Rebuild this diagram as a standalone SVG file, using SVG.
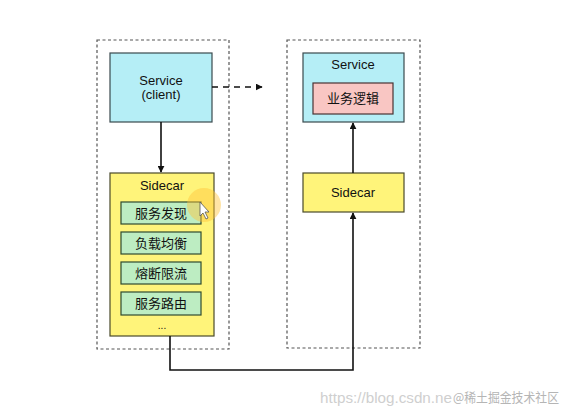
<svg xmlns="http://www.w3.org/2000/svg" width="573" height="415" viewBox="0 0 573 415">
<defs>
<style>
.grp{fill:none;stroke:#555;stroke-width:1.2;stroke-dasharray:3,2.5}
.svc{fill:#b5eef6;stroke:#3a4a4e;stroke-width:1.2}
.sc{fill:#fff47a;stroke:#4a4a2a;stroke-width:1.2}
.fn{fill:#bdedc2;stroke:#2f4a2f;stroke-width:1.2}
.biz{fill:#f9c6c3;stroke:#4a3333;stroke-width:1.2}
.t{font-family:"Liberation Sans",Arial,sans-serif;font-size:13px;fill:#111;text-anchor:middle}
.c{font-family:"Noto Sans CJK SC","Liberation Sans",sans-serif;font-size:13px;fill:#111;text-anchor:middle}
.ln{fill:none;stroke:#111;stroke-width:1.6}
.wm{font-size:14px;fill:#cfcfcf}
</style>
<marker id="ah" viewBox="0 0 10 10" refX="9" refY="5" markerWidth="7" markerHeight="7" markerUnits="userSpaceOnUse" orient="auto">
<path d="M0,0 L10,5 L0,10 z" fill="#111"/>
</marker>
</defs>
<rect width="573" height="415" fill="#fff"/>
<g id="group-left"><rect class="grp" x="97" y="40" width="132" height="309"/></g>
<g id="group-right"><rect class="grp" x="287" y="40" width="133" height="308"/></g>
<g id="service-client">
<rect class="svc" x="110" y="53" width="102" height="69"/>
<text class="t" x="161" y="85">Service</text>
<text class="t" x="161" y="99">(client)</text>
</g>
<g id="sidecar-left">
<rect class="sc" x="110" y="173" width="104" height="163"/>
<text class="t" x="162" y="190">Sidecar</text>
</g>
<g id="fn-discovery"><rect class="fn" x="121" y="202" width="80" height="22"/><text class="c" x="161" y="218">服务发现</text></g>
<g id="fn-lb"><rect class="fn" x="121" y="232" width="80" height="22"/><text class="c" x="161" y="248">负载均衡</text></g>
<g id="fn-cb"><rect class="fn" x="121" y="262" width="80" height="22"/><text class="c" x="161" y="278">熔断限流</text></g>
<g id="fn-route"><rect class="fn" x="121" y="292" width="80" height="23"/><text class="c" x="161" y="308">服务路由</text></g>
<g id="more"><text class="t" x="162" y="329" style="font-size:10px">...</text></g>
<g id="service-right">
<rect class="svc" x="303" y="53" width="101" height="69"/>
<text class="t" x="353" y="69">Service</text>
<rect class="biz" x="313" y="83" width="80" height="31"/>
<text class="c" x="353" y="103">业务逻辑</text>
</g>
<g id="sidecar-right">
<rect class="sc" x="303" y="173" width="101" height="39"/>
<text class="t" x="353" y="197">Sidecar</text>
</g>
<g id="connectors">
<line class="ln" x1="161" y1="122" x2="161" y2="172" marker-end="url(#ah)"/>
<line class="ln" x1="212" y1="87" x2="262" y2="87" stroke-dasharray="6,5" marker-end="url(#ah)"/>
<line class="ln" x1="353" y1="173" x2="353" y2="123" marker-end="url(#ah)"/>
<polyline class="ln" points="170,336 170,370 353,370 353,213" marker-end="url(#ah)"/>
</g>
<g id="cursor">
<circle cx="204" cy="205" r="17" fill="#ffc43a" opacity="0.45"/>
<path d="M200,202 L200,216 L203,213 L206,219 L208,218 L205,212 L209,212 z" fill="#fff" stroke="#555" stroke-width="0.8"/>
</g>
<g id="watermark">
<text class="wm" x="320" y="403" textLength="132" lengthAdjust="spacingAndGlyphs" style="font-family:'Liberation Sans',sans-serif">https://blog.csdn.ne</text>
<text class="wm" x="453" y="402" textLength="106" lengthAdjust="spacingAndGlyphs" style="font-family:'Noto Sans CJK SC',sans-serif;font-size:13px;fill:#b5b5b5">@稀土掘金技术社区</text>
</g>
</svg>
